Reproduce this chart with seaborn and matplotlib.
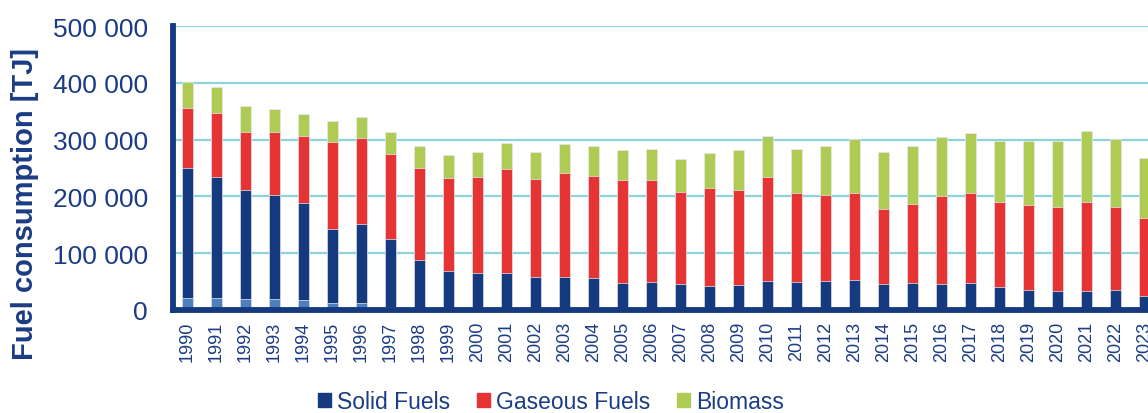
import matplotlib
matplotlib.use("Agg")
import matplotlib.pyplot as plt
import seaborn as sns
import numpy as np
from matplotlib.patches import Patch
from matplotlib.ticker import FuncFormatter

years = [str(y) for y in range(1990, 2024)]

# values in TJ
solid_fuels = np.array([229, 214, 193, 183, 172, 131, 139, 119, 88, 68,
                        65, 65, 58, 58, 56, 48, 49, 45, 43, 44,
                        51, 49, 51, 52, 45, 47, 46, 47, 41, 35,
                        34, 34, 35, 24]) * 1000
# light blue segment at the bottom of the early bars (no legend entry)
other_fuels = np.array([21, 21, 19, 19, 17, 12, 12, 6, 0, 0,
                        0, 0, 0, 0, 0, 0, 0, 0, 0, 0,
                        0, 0, 0, 0, 0, 0, 0, 0, 0, 0,
                        0, 0, 0, 0]) * 1000
gaseous_fuels = np.array([106, 112, 102, 111, 118, 153, 152, 150, 162, 164,
                          170, 183, 173, 184, 180, 180, 179, 163, 171, 168,
                          183, 157, 152, 154, 133, 139, 154, 159, 150, 150,
                          148, 156, 146, 138]) * 1000
biomass = np.array([45, 46, 45, 41, 38, 36, 37, 38, 39, 41,
                    43, 46, 48, 50, 52, 54, 55, 58, 63, 69,
                    72, 77, 85, 95, 101, 103, 105, 105, 107, 113,
                    115, 125, 120, 106]) * 1000

navy = "#163a80"
light_blue = "#4f80be"
red = "#e63434"
green = "#b0cb54"
text_col = "#1b3c84"
grid_col = "#8ed2dc"

sns.set_style("white")
plt.rcParams["font.family"] = ["Liberation Sans", "DejaVu Sans"]

fig = plt.figure(figsize=(11.48, 4.14), dpi=100)
ax = fig.add_axes([173 / 1148, 103 / 414, 1 - 173 / 1148, 284 / 414])

# stack by overlaying cumulative totals
layers = [
    (other_fuels + solid_fuels + gaseous_fuels + biomass, green),
    (other_fuels + solid_fuels + gaseous_fuels, red),
    (other_fuels + solid_fuels, navy),
    (other_fuels, light_blue),
]
for vals, col in layers:
    sns.barplot(x=years, y=vals, color=col, saturation=1, width=0.38,
                edgecolor="#e4e9f0", linewidth=0.5, ax=ax)

ax.set_xlim(-0.5, 33.12)
ax.set_ylim(0, 500000)
ax.set_yticks(np.arange(0, 500001, 100000))
ax.yaxis.set_major_formatter(FuncFormatter(lambda v, p: f"{int(v):,}".replace(",", " ")))
ax.set_axisbelow(True)
ax.yaxis.grid(True, color=grid_col, linewidth=1.6)
ax.xaxis.grid(False)

for s in ["top", "right"]:
    ax.spines[s].set_visible(False)
for s in ["left", "bottom"]:
    ax.spines[s].set_color(navy)
    ax.spines[s].set_linewidth(4.2)
    ax.spines[s].set_zorder(5)

ax.tick_params(axis="y", length=0, pad=18, labelsize=19, labelcolor=text_col)
ax.tick_params(axis="x", length=0, pad=8, labelsize=13, labelcolor=text_col,
               labelrotation=90)
ax.set_xlabel("")
ax.set_ylabel("")

fig.text(25 / 1148, 1 - 204 / 414, "Fuel consumption [TJ]", rotation=90,
         ha="center", va="center", fontsize=21, fontweight="bold", color=text_col)

handles = [Patch(color=navy, label="Solid Fuels"),
           Patch(color=red, label="Gaseous Fuels"),
           Patch(color=green, label="Biomass")]
leg = fig.legend(handles=handles, loc="center", bbox_to_anchor=(0.48, 0.027),
                 ncol=3, frameon=False, fontsize=16.5, handlelength=0.55,
                 handleheight=0.55, handletextpad=0.25, columnspacing=1.2)
for t in leg.get_texts():
    t.set_color(text_col)

fig.savefig("out.png", dpi=100)
